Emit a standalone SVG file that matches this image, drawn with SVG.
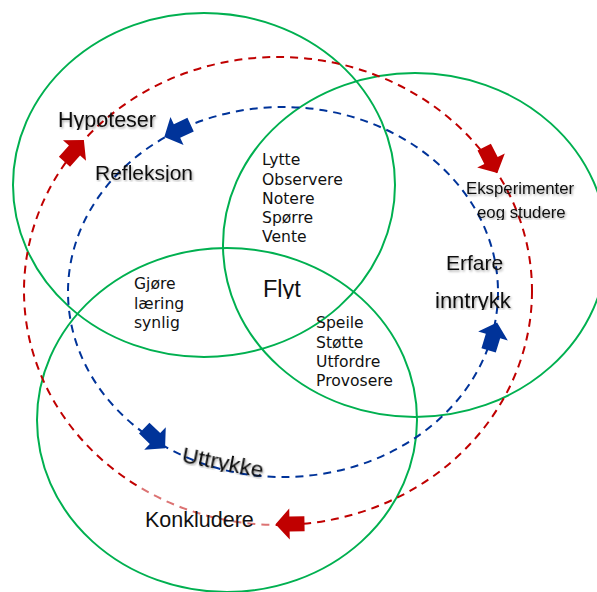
<svg xmlns="http://www.w3.org/2000/svg" xmlns:xlink="http://www.w3.org/1999/xlink" width="597" height="592" viewBox="0 0 597 592">
<style>
.ring{fill:none;stroke:#00B050;stroke-width:2}
.red{fill:none;stroke:#C00000;stroke-width:2;stroke-dasharray:8 6}
.blue{fill:none;stroke:#003399;stroke-width:2;stroke-dasharray:8 6}
.big{font-family:"Liberation Sans",Arial,sans-serif;fill:#111}
.sm{font-family:"DejaVu Sans",Verdana,sans-serif;font-size:15.6px;fill:#111}
.sh{filter:url(#shadow)}
</style>
<defs>
<filter id="shadow" x="-10%" y="-30%" width="130%" height="170%">
<feDropShadow dx="1.2" dy="1.5" stdDeviation="1" flood-color="#000" flood-opacity="0.35"/>
</filter>
<path id="arr" d="M-15,-7.5 L0,-7.5 L0,-15.5 L14,0 L0,15.5 L0,7.5 L-15,7.5 Z"/>
<clipPath id="cHyp"><rect x="40" y="95" width="140" height="35"/></clipPath>
<clipPath id="cRef"><rect x="80" y="150" width="140" height="32"/></clipPath>
<clipPath id="cEog"><rect x="460" y="200" width="130" height="20"/></clipPath>
<clipPath id="cInn"><rect x="420" y="280" width="120" height="30"/></clipPath>
<clipPath id="cUtt"><rect x="-10" y="-25" width="110" height="27"/></clipPath>
<clipPath id="cFly"><rect x="250" y="270" width="70" height="29"/></clipPath>
</defs>

<g id="circles">
<ellipse id="circle-top-left" class="ring" cx="204" cy="185" rx="191" ry="172"/>
<ellipse id="circle-right" class="ring" cx="415" cy="245" rx="192" ry="172"/>
<ellipse id="circle-bottom" class="ring" cx="227" cy="420" rx="190" ry="172"/>
</g>

<g id="connectors">
<ellipse class="red" cx="278" cy="291" rx="254" ry="234"/>
<ellipse class="blue" cx="283" cy="292" rx="215" ry="185"/>
<use xlink:href="#arr" fill="#C00000" transform="translate(74.5,150.5) rotate(-48)"/>
<use xlink:href="#arr" fill="#C00000" transform="translate(491,160.5) rotate(63)"/>
<use xlink:href="#arr" fill="#C00000" transform="translate(289.5,524) rotate(179)"/>
<use xlink:href="#arr" fill="#003399" transform="translate(177,131) rotate(155)"/>
<use xlink:href="#arr" fill="#003399" transform="translate(493,336) rotate(-73)"/>
<use xlink:href="#arr" fill="#003399" transform="translate(155,438.5) rotate(44)"/>
</g>

<g id="node-hypoteser"><text class="big sh" x="58" y="127" font-size="21.5" clip-path="url(#cHyp)">Hypoteser</text></g>
<g id="node-refleksjon"><text class="big sh" x="95" y="180" font-size="21" clip-path="url(#cRef)">Refleksjon</text></g>
<g id="node-eksperimenter">
<text class="big sh" x="466" y="194" font-size="16.8">Eksperimenter</text>
<text class="big sh" x="477" y="218" font-size="16.8" clip-path="url(#cEog)">eog studere</text>
</g>
<g id="node-erfare">
<text class="big sh" x="446" y="270" font-size="21">Erfare</text>
<text class="big sh" x="435" y="308" font-size="22" clip-path="url(#cInn)">inntrykk</text>
</g>
<g id="node-uttrykke" transform="translate(181,462) rotate(11)"><text class="big sh" x="0" y="0" font-size="22.5" clip-path="url(#cUtt)">Uttrykke</text></g>
<g id="node-konkludere">
<rect x="140" y="486" width="136" height="50" fill="#fff" fill-opacity="0.45"/>
<text class="big" x="145" y="527" font-size="21.5">Konkludere</text>
</g>
<g id="node-flyt"><text class="big" x="263" y="297" font-size="23.5" clip-path="url(#cFly)">Flyt</text></g>
<g id="node-lytte">
<text class="sm" x="262" y="165">Lytte</text>
<text class="sm" x="262" y="184.5">Observere</text>
<text class="sm" x="262" y="204">Notere</text>
<text class="sm" x="262" y="223">Spørre</text>
<text class="sm" x="262" y="242">Vente</text>
</g>
<g id="node-gjore">
<text class="sm" x="134" y="289">Gjøre</text>
<text class="sm" x="134" y="308.5">læring</text>
<text class="sm" x="134" y="328">synlig</text>
</g>
<g id="node-speile">
<text class="sm" x="316" y="328">Speile</text>
<text class="sm" x="316" y="347.5">Støtte</text>
<text class="sm" x="316" y="367">Utfordre</text>
<text class="sm" x="316" y="386">Provosere</text>
</g>
</svg>
